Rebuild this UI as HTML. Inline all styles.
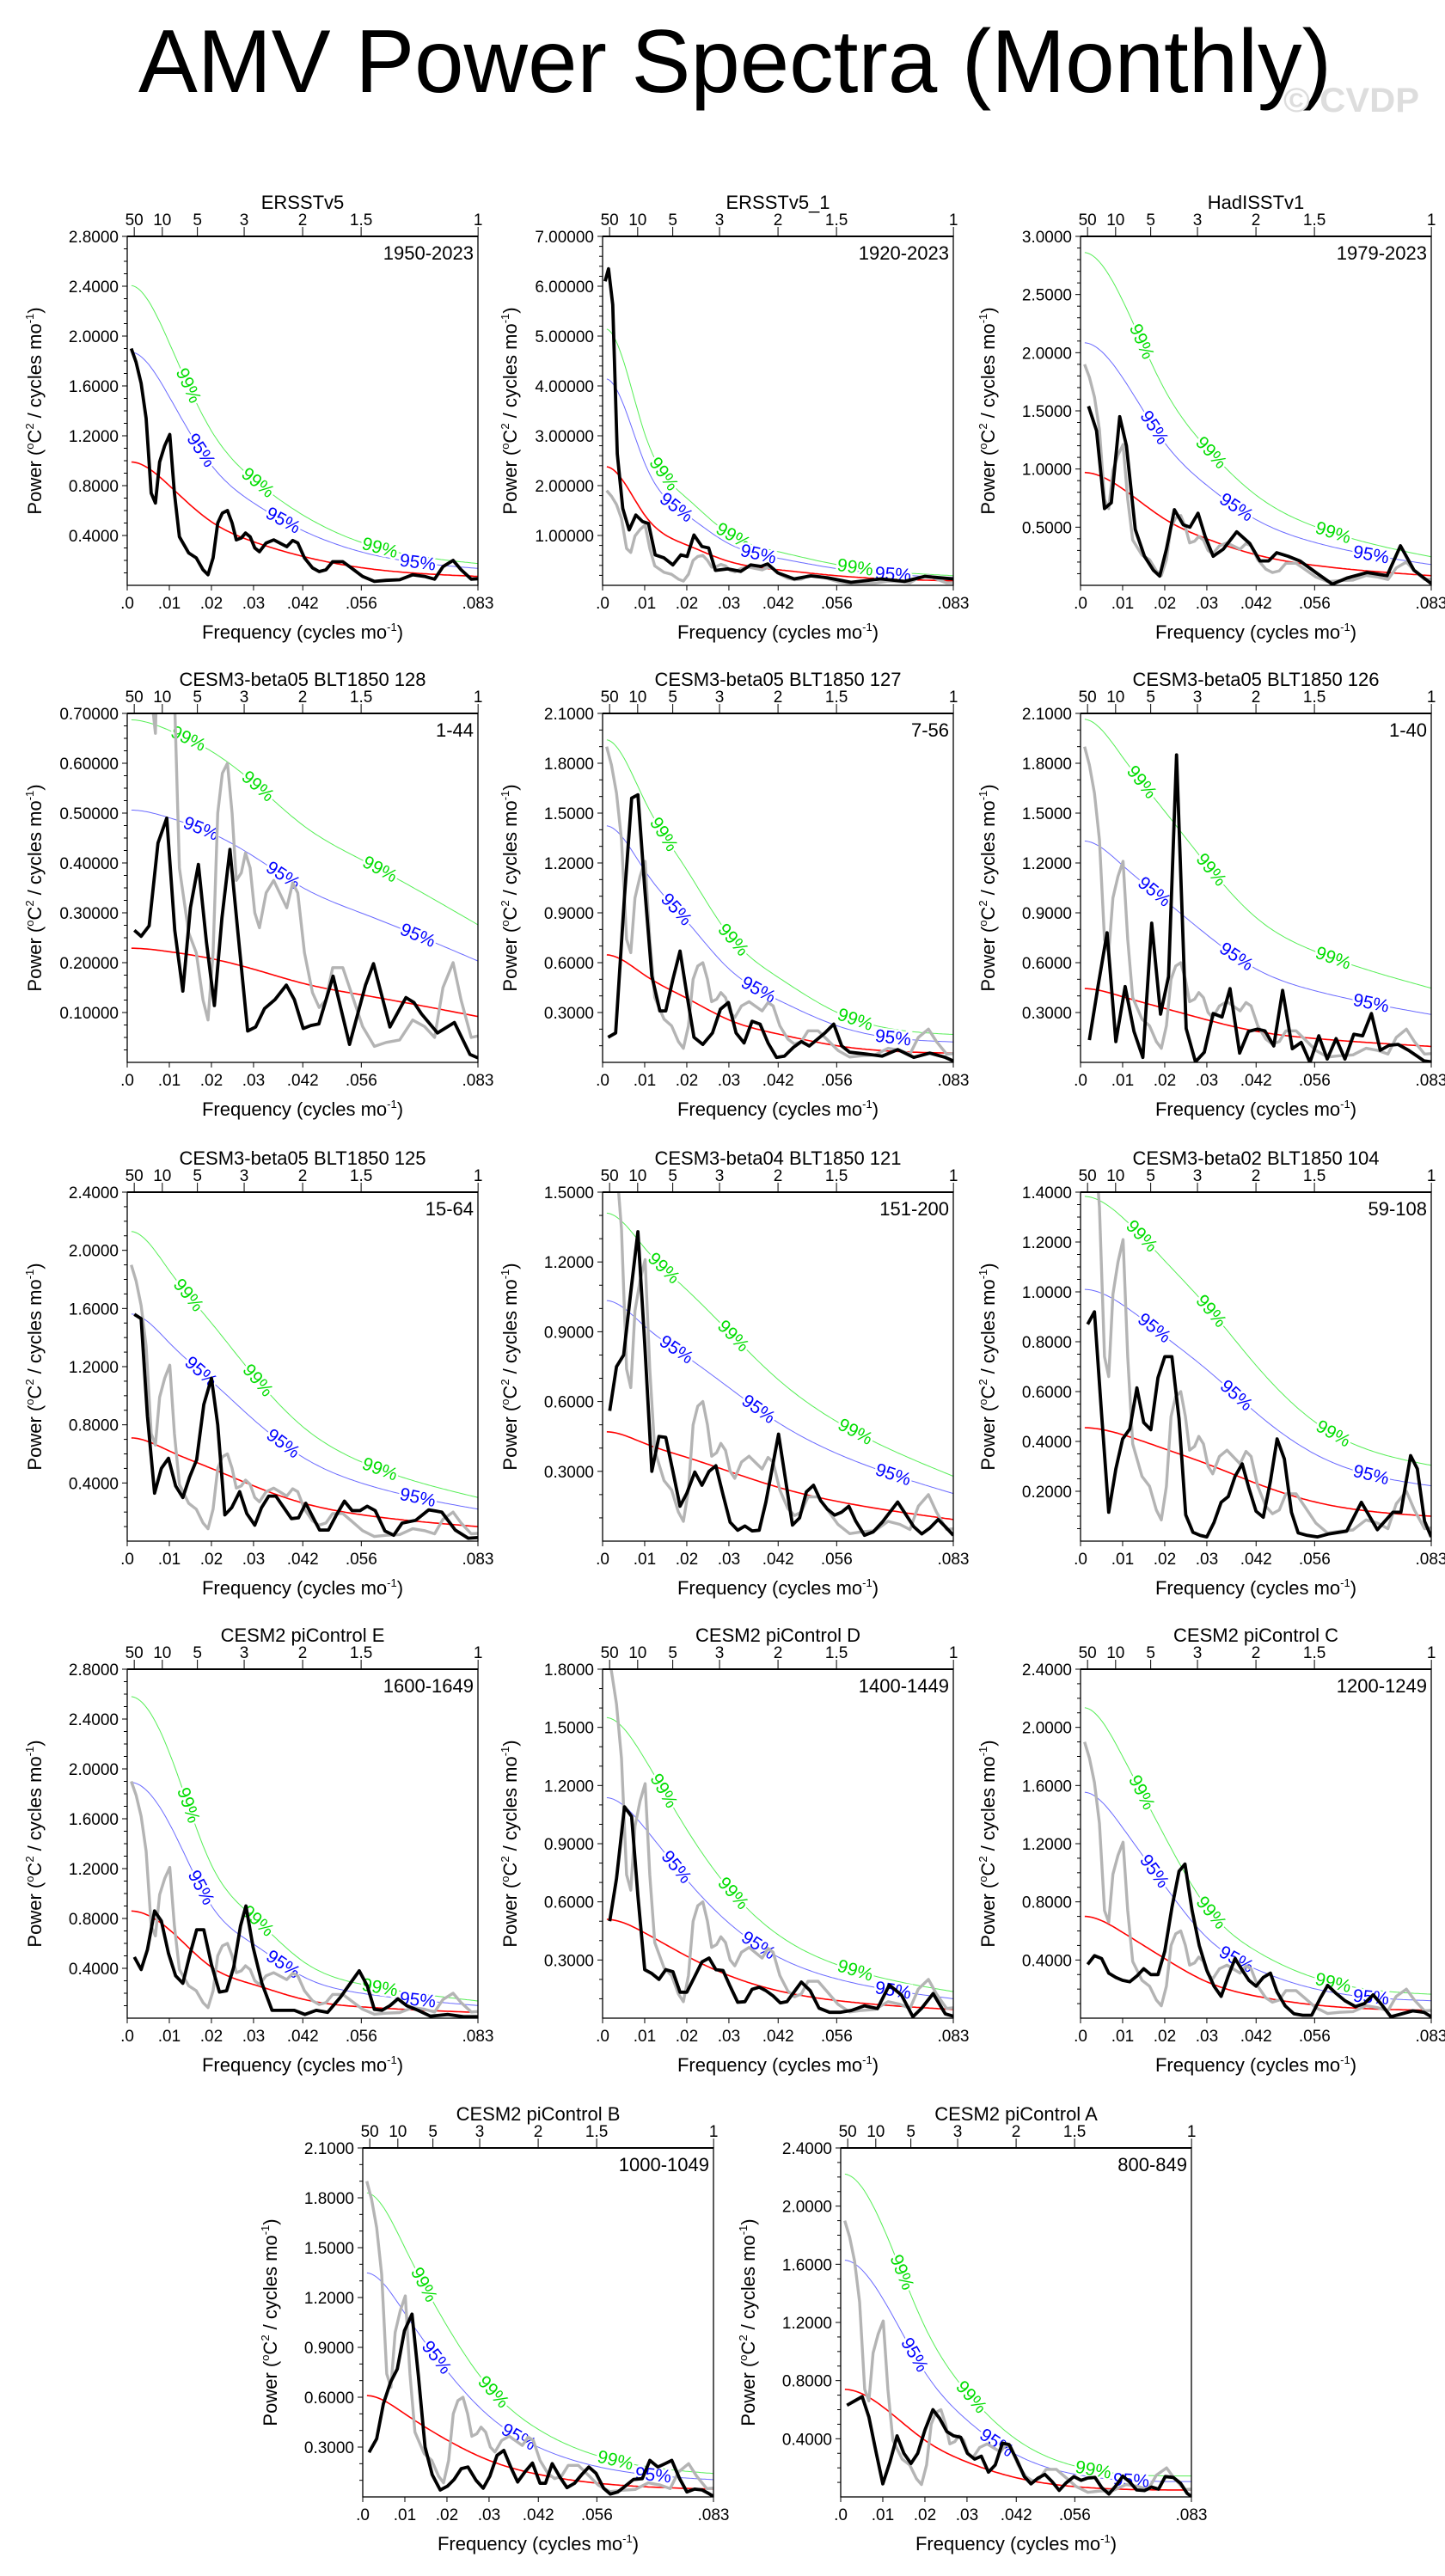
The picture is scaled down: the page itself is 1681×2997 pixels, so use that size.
<!DOCTYPE html>
<html><head><meta charset="utf-8"><style>
html,body{margin:0;padding:0;background:#fff}
svg{display:block;font-family:"Liberation Sans",sans-serif}
</style></head><body>
<svg id="chart" xmlns="http://www.w3.org/2000/svg" width="1681" height="2997" viewBox="0 0 1681 2997">
<rect x="0" y="0" width="1681" height="2997" fill="#fff"/>
<text x="161" y="107" font-size="104" textLength="1388" lengthAdjust="spacingAndGlyphs">AMV Power Spectra (Monthly)</text>
<text x="1493" y="130" font-size="40" font-weight="bold" fill="#dddddd" textLength="158" lengthAdjust="spacingAndGlyphs">© CVDP</text>
<g id="panels"></g>
</svg>
<script>
// ---------- data ----------
const redFreqs = [0.001,0.01,0.02,0.03,0.042,0.056,0.0833];
const xTickVals = [0,0.01,0.02,0.03,0.0417,0.0556,0.0833];
const xTickLabels = [".0",".01",".02",".03",".042",".056",".083"];
const periodVals = [50,10,5,3,2,1.5,1];
const periodLabels = ["50","10","5","3","2","1.5","1"];

const titles = ["ERSSTv5","ERSSTv5_1","HadISSTv1","CESM3-beta05 BLT1850 128","CESM3-beta05 BLT1850 127","CESM3-beta05 BLT1850 126","CESM3-beta05 BLT1850 125","CESM3-beta04 BLT1850 121","CESM3-beta02 BLT1850 104","CESM2 piControl E","CESM2 piControl D","CESM2 piControl C","CESM2 piControl B","CESM2 piControl A"];
const yearRanges = ["1950-2023","1920-2023","1979-2023","1-44","7-56","1-40","15-64","151-200","59-108","1600-1649","1400-1449","1200-1249","1000-1049","800-849"];
const yMaxes = [2.8,7,3,0.7,2.1,2.1,2.4,1.5,1.4,2.8,1.8,2.4,2.1,2.4];
const yTickSteps = [0.4,1,0.5,0.1,0.3,0.3,0.4,0.3,0.2,0.4,0.3,0.4,0.3,0.4];
const yMinorPer = [4,5,5,4,3,3,4,3,4,4,3,4,3,4];
const yDecimals = [4,5,4,5,4,4,4,4,4,4,4,4,4,4];

// observational reference (grey) = ERSSTv5 spectrum
const obsF = [.00095,.0021,.0033,.0045,.0057,.0067,.0077,.0089,.0101,.0112,.0124,.0146,.0164,.018,.0192,.0204,.0215,.0226,.0238,.0249,.0259,.0271,.0281,.0292,.0303,.0314,.033,.0348,.0362,.0379,.0393,.0405,.0421,.044,.0456,.0472,.0488,.0512,.0532,.0559,.0587,.0615,.0647,.0678,.0706,.073,.075,.0774,.0793,.0817,.0833];
const obsV = [1.90,1.79,1.62,1.34,0.74,0.66,0.99,1.12,1.21,0.74,0.39,0.26,0.22,0.125,0.085,0.22,0.50,0.58,0.60,0.50,0.365,0.38,0.42,0.39,0.30,0.27,0.34,0.365,0.34,0.31,0.36,0.34,0.22,0.14,0.11,0.125,0.19,0.19,0.14,0.072,0.032,0.04,0.045,0.085,0.072,0.05,0.15,0.2,0.125,0.05,0.053];

const p2f = [.0006,.0014,.0024,.0035,.0048,.0063,.0079,.0095,.0109,.0125,.0146,.0167,.0186,.0201,.0217,.0236,.0252,.0268,.0297,.0328,.0352,.0376,.0392,.0416,.0455,.0495,.0535,.059,.0661,.0717,.0765,.0804,.0833];
const p2v = [6.10,6.35,5.63,2.64,1.54,1.11,1.41,1.28,1.24,0.61,0.55,0.41,0.61,0.58,1.01,0.78,0.75,0.30,0.33,0.28,0.41,0.38,0.43,0.25,0.13,0.19,0.15,0.06,0.13,0.08,0.18,0.15,0.13];
const p3f = [.0019,.0038,.0057,.0073,.0093,.0109,.013,.0152,.0173,.0188,.0204,.0223,.0244,.026,.0279,.0296,.0315,.0339,.0371,.0402,.0426,.0447,.0466,.0493,.0521,.0561,.0598,.0633,.0681,.0728,.076,.0792,.0833];
const p3v = [1.54,1.33,0.66,0.71,1.45,1.20,0.48,0.25,0.13,0.08,0.31,0.65,0.52,0.50,0.62,0.42,0.25,0.31,0.46,0.36,0.21,0.21,0.28,0.25,0.21,0.105,0.01,0.063,0.11,0.083,0.34,0.13,0.015];
const p4f = [.0017,.0033,.0052,.0073,.0094,.0113,.0132,.015,.0169,.0188,.0207,.0225,.0244,.0263,.0286,.0305,.0326,.0351,.0378,.0397,.0418,.0436,.0455,.0489,.0528,.0566,.0585,.0624,.0662,.0681,.0699,.0737,.0777,.0814,.0833];
const p4v = [.265,.253,.274,.44,.49,.265,.143,.31,.397,.242,.114,.29,.427,.26,.063,.071,.108,.126,.155,.126,.068,.074,.077,.173,.036,.155,.198,.071,.13,.12,.097,.059,.08,.016,.009];
const p5f = [.0013,.0031,.0052,.0069,.0084,.01,.0117,.0136,.015,.0167,.0184,.02,.0217,.0238,.0261,.028,.0299,.0317,.0336,.0355,.0374,.0393,.0413,.0432,.0453,.0472,.0491,.0528,.0549,.0568,.0587,.0626,.0664,.0701,.0739,.0777,.0814,.0833];
const p5v = [.151,.177,1.0,1.59,1.61,1.05,.52,.31,.31,.5,.67,.41,.151,.108,.177,.32,.36,.177,.117,.247,.23,.117,.03,.038,.09,.125,.099,.177,.23,.099,.061,.05,.038,.077,.03,.056,.03,.009];
const p6f = [.0021,.0042,.0063,.0084,.0106,.0127,.0148,.0169,.019,.0209,.0228,.0251,.0273,.0294,.0315,.0336,.0355,.0378,.0399,.042,.0438,.0459,.048,.0503,.0524,.0545,.0566,.0586,.0607,.0628,.0649,.067,.0691,.0712,.0733,.0754,.0779,.0816,.0833];
const p6v = [.134,.465,.78,.125,.456,.186,.03,.838,.29,.517,1.85,.204,.003,.061,.294,.273,.444,.056,.186,.2,.19,.099,.433,.082,.12,0,.16,.02,.143,.02,.169,.16,.294,.073,.103,.108,.073,.009,.003];
const p7f = [.0017,.0033,.0048,.0065,.0081,.0098,.0115,.0132,.0148,.0165,.0182,.02,.0215,.0232,.0248,.0267,.0284,.0303,.0319,.0336,.0353,.0372,.039,.0407,.0424,.044,.0457,.0478,.0497,.0516,.0534,.0553,.057,.0589,.0612,.0633,.0653,.0685,.0716,.0747,.0779,.081,.0833];
const p7v = [1.56,1.53,.86,.33,.5,.57,.38,.30,.44,.56,.94,1.12,.80,.18,.23,.34,.19,.11,.23,.31,.31,.23,.155,.16,.26,.17,.076,.076,.18,.275,.21,.21,.24,.21,.07,.04,.124,.143,.215,.20,.076,.02,.024];
const p8f = [.0017,.0033,.005,.0067,.0084,.01,.0117,.0134,.015,.0167,.0184,.02,.0219,.0236,.0253,.0269,.0286,.0303,.0321,.0338,.0355,.0372,.0388,.0418,.0451,.0468,.0484,.0501,.0518,.0534,.0551,.0568,.0585,.0601,.0622,.0643,.0664,.0701,.0739,.0758,.0777,.0797,.0814,.0833];
const p8v = [.56,.75,.80,1.07,1.33,.85,.30,.45,.446,.30,.15,.206,.297,.24,.30,.324,.2,.081,.047,.065,.044,.047,.168,.46,.069,.1,.212,.24,.174,.137,.112,.125,.15,.087,.025,.04,.081,.168,.062,.031,.056,.093,.062,.025];
const p9f = [.0017,.0033,.005,.0067,.0084,.01,.0117,.0134,.015,.0167,.0184,.02,.0217,.0234,.025,.0267,.0284,.03,.0317,.0334,.0351,.0367,.0384,.04,.0417,.0434,.0451,.0467,.0484,.0501,.0517,.0538,.0563,.059,.0632,.0667,.0705,.0742,.0761,.0784,.08,.0817,.0833];
const p9v = [.87,.92,.51,.116,.29,.41,.45,.615,.476,.447,.656,.74,.74,.49,.105,.035,.023,.017,.075,.156,.179,.26,.31,.212,.12,.096,.24,.41,.33,.116,.033,.023,.017,.029,.04,.156,.046,.116,.116,.343,.29,.08,.017];
const p10f = [.0017,.0033,.0048,.0065,.0081,.0098,.0115,.0132,.0148,.0165,.0182,.02,.0219,.0236,.0253,.0269,.0282,.0299,.032,.0344,.0372,.0397,.0422,.0449,.0476,.0507,.0534,.0551,.057,.0587,.0605,.0624,.0643,.0664,.0691,.072,.0762,.0799,.0833];
const p10v = [.49,.39,.55,.86,.78,.52,.34,.28,.50,.71,.71,.43,.21,.22,.41,.74,.90,.57,.28,.063,.063,.063,.03,.063,.046,.17,.30,.38,.26,.07,.063,.1,.155,.1,.063,.016,.03,.012,.012];
const p11f = [.0017,.0033,.0052,.0069,.0084,.01,.0117,.0134,.015,.0167,.0184,.02,.0219,.0236,.0253,.0269,.0286,.0303,.0321,.0338,.0355,.0372,.0388,.0405,.0422,.0438,.0472,.0493,.0514,.0539,.0564,.0591,.0622,.0653,.0681,.071,.0737,.0758,.0785,.0814,.0833];
const p11v = [.5,.72,1.09,1.04,.63,.25,.23,.2,.25,.24,.134,.134,.216,.29,.31,.25,.246,.164,.082,.085,.149,.16,.142,.115,.079,.085,.186,.142,.052,.03,.03,.04,.064,.049,.171,.119,.007,.052,.127,.022,.01];
const p12f = [.0017,.0033,.005,.0067,.0084,.01,.0117,.0134,.015,.0167,.0184,.02,.0217,.0234,.0248,.0265,.0282,.03,.0317,.0334,.0351,.0367,.0384,.04,.0417,.0434,.0451,.0467,.0486,.0507,.0528,.0549,.057,.0587,.0607,.0628,.0653,.0674,.0695,.0716,.0737,.0758,.0789,.0816,.0833];
const p12v = [.37,.43,.41,.31,.28,.26,.25,.29,.34,.30,.30,.46,.76,1.01,1.06,.74,.50,.33,.22,.15,.29,.41,.33,.26,.22,.28,.31,.18,.085,.03,.02,.02,.14,.225,.17,.12,.08,.1,.16,.09,.01,.026,.05,.04,.01];
const p13f = [.0015,.0033,.0049,.0066,.0082,.0099,.0117,.0132,.0148,.0165,.0184,.0201,.0217,.0234,.025,.0269,.0286,.0302,.0319,.0335,.0352,.0368,.0385,.0403,.0421,.0434,.045,.0469,.0485,.0503,.052,.0537,.0554,.0572,.0588,.0606,.0623,.0643,.0664,.0682,.0701,.0718,.0734,.0753,.077,.0788,.0806,.0822,.0833];
const p13v = [.268,.35,.56,.69,.77,1.0,1.10,.73,.30,.134,.042,.064,.105,.17,.18,.1,.052,.125,.25,.28,.177,.09,.15,.204,.082,.082,.2,.117,.056,.082,.134,.18,.143,.052,.017,.03,.064,.105,.11,.22,.18,.2,.22,.108,.03,.047,.042,.02,.003];
const p14f = [.0015,.0033,.0051,.0067,.0084,.01,.0117,.0134,.015,.0167,.0183,.02,.0219,.0235,.0252,.0268,.0285,.0301,.0318,.0334,.0351,.0367,.0384,.04,.0419,.0436,.0452,.0469,.0485,.0502,.0519,.0535,.0554,.0571,.0587,.0604,.062,.0637,.0653,.067,.0686,.0703,.0722,.0738,.0755,.0771,.079,.0807,.0823,.0833];
const p14v = [.63,.66,.69,.55,.31,.09,.24,.42,.30,.23,.30,.46,.60,.54,.45,.42,.41,.30,.26,.28,.17,.22,.37,.36,.25,.14,.09,.13,.155,.105,.045,.095,.14,.114,.13,.134,.064,.02,.074,.143,.104,.048,.044,.068,.054,.14,.134,.094,.024,.004];

const seriesF = [obsF,p2f,p3f,p4f,p5f,p6f,p7f,p8f,p9f,p10f,p11f,p12f,p13f,p14f];
const seriesV = [obsV,p2v,p3v,p4v,p5v,p6v,p7v,p8v,p9v,p10v,p11v,p12v,p13v,p14v];

const red1 = [0.99,0.80,0.51,0.35,0.23,0.14,0.072];
const red2 = [2.38,1.41,0.81,0.48,0.31,0.19,0.09];
const red3 = [0.97,0.83,0.57,0.40,0.26,0.17,0.083];
const red4 = [0.229,0.222,0.208,0.187,0.158,0.135,0.092];
const red5 = [0.647,0.525,0.386,0.256,0.169,0.099,0.056];
const red6 = [0.444,0.395,0.325,0.256,0.186,0.143,0.096];
const red7 = [0.71,0.62,0.50,0.38,0.26,0.18,0.10];
const red8 = [0.47,0.42,0.36,0.30,0.23,0.17,0.093];
const red9 = [0.455,0.427,0.37,0.31,0.23,0.156,0.1];
const red10 = [0.86,0.71,0.41,0.27,0.15,0.09,0.046];
const red11 = [0.51,0.44,0.32,0.22,0.14,0.09,0.045];
const red12 = [0.70,0.59,0.41,0.25,0.15,0.09,0.054];
const red13 = [0.61,0.50,0.343,0.22,0.134,0.082,0.047];
const red14 = [0.74,0.62,0.39,0.24,0.13,0.07,0.048];
const redSeries = [red1,red2,red3,red4,red5,red6,red7,red8,red9,red10,red11,red12,red13,red14];
const ratio95 = [1.89,1.74,2.15,2.21,2.2,3.0,2.2,2.2,2.22,2.2,2.23,2.22,2.21,2.2];
const ratio99 = [2.43,2.16,2.95,3.0,3.0,4.65,3.0,3.0,3.04,3.0,3.04,3.05,3.0,3.0];
const label99F = [0.0145,0.031,0.06];
const label95F = [0.0175,0.037,0.069];

// ---------- layout (not data) ----------
const PW = 408, PH = 406, FMAX = 0.0833;
const colX = [148,701,1257];
const rowY = [275,830,1387,1942,2499];
const panelPos = [];
for (let i=0;i<12;i++) panelPos.push([colX[i%3], rowY[Math.floor(i/3)]]);
panelPos.push([422,rowY[4]]); panelPos.push([978,rowY[4]]);

const NS = "http://www.w3.org/2000/svg";
const root = document.getElementById('panels');
function mk(tag, attrs, parent, text){
  const e = document.createElementNS(NS, tag);
  for (const k in attrs) e.setAttribute(k, attrs[k]);
  if (text !== undefined) e.textContent = text;
  (parent||root).appendChild(e);
  return e;
}
// cubic spline, clamped zero slope at start (f=0 side), natural at end
function splineInterp(xs0, ys0){
  // prepend f=0 point with zero-slope assumption via mirrored point
  const xs = [0].concat(xs0), ys = [ys0[0]].concat(ys0);
  const n = xs.length, h = [];
  for (let i=0;i<n-1;i++) h.push(xs[i+1]-xs[i]);
  const a = new Array(n).fill(0), b = new Array(n).fill(0), c = new Array(n).fill(0), r = new Array(n).fill(0);
  // clamped start: slope 0
  b[0] = 2*h[0]; c[0] = h[0]; r[0] = 6*((ys[1]-ys[0])/h[0] - 0);
  for (let i=1;i<n-1;i++){
    a[i]=h[i-1]; b[i]=2*(h[i-1]+h[i]); c[i]=h[i];
    r[i]=6*((ys[i+1]-ys[i])/h[i]-(ys[i]-ys[i-1])/h[i-1]);
  }
  b[n-1]=1; r[n-1]=0;
  for (let i=1;i<n;i++){ const m=a[i]/b[i-1]; b[i]-=m*c[i-1]; r[i]-=m*r[i-1]; }
  const M = new Array(n);
  M[n-1]=r[n-1]/b[n-1];
  for (let i=n-2;i>=0;i--) M[i]=(r[i]-c[i]*M[i+1])/b[i];
  return function(x){
    let i=0; while(i<n-2 && x>xs[i+1]) i++;
    const hi=h[i], t1=xs[i+1]-x, t0=x-xs[i];
    return M[i]*t1*t1*t1/(6*hi)+M[i+1]*t0*t0*t0/(6*hi)+(ys[i]/hi-M[i]*hi/6)*t1+(ys[i+1]/hi-M[i+1]*hi/6)*t0;
  };
}

for (let p=0;p<14;p++){
  const [L,T] = panelPos[p];
  const ymax = yMaxes[p];
  const xs = f => L + f/FMAX*PW;
  const ys = v => T + PH - v/ymax*PH;
  const g = mk('g',{});
  
  
  const clipId = 'clip'+p;
  const cp = mk('clipPath',{id:clipId},g);
  mk('rect',{x:L,y:T,width:PW,height:PH},cp);

  const tt = mk('text',{x:L+PW/2,y:T-32,'font-size':22,'text-anchor':'middle'},g,titles[p]);
  
  
  const yr = mk('text',{x:L+PW-5,y:T+27,'font-size':22,'text-anchor':'end'},g,yearRanges[p]);
  
  

  const red = redSeries[p];
  const rf = splineInterp(redFreqs, red);
  const curves = [[1,'#ff0000',1.6,'red-noise-curve'],[ratio95[p],'#6a6aff',1,'confidence-95-curve'],[ratio99[p],'#55ee55',1,'confidence-99-curve']];
  for (const [r,col,w,nm] of curves){
    let d='';
    for (let k=0;k<=160;k++){
      const f = redFreqs[0] + (FMAX-redFreqs[0])*k/160;
      const v = rf(f)*r;
      d += (k?'L':'M')+xs(f).toFixed(1)+','+ys(v).toFixed(1);
    }
    const pa = mk('path',{d:d,fill:'none',stroke:col,'stroke-width':w,'clip-path':'url(#'+clipId+')'},g);
    
    
  }
  const labSets = [[ratio99[p],label99F,'99%','#00dd00','label-99'],[ratio95[p],label95F,'95%','#0000ff','label-95']];
  for (const [r,fl,txt,col,nm] of labSets){
    for (const f of fl){
      const x = xs(f), y = ys(rf(f)*r);
      if (y < T+8 || y > T+PH-4) continue;
      const y2 = ys(rf(f+0.0005)*r), x2 = xs(f+0.0005);
      const ang = Math.atan2(y2-y, x2-x)*180/Math.PI;
      const lt = mk('text',{x:x,y:y,'font-size':21,fill:col,'text-anchor':'middle','dominant-baseline':'central',stroke:'#fff','stroke-width':5,'paint-order':'stroke',transform:'rotate('+ang.toFixed(1)+' '+x.toFixed(1)+' '+y.toFixed(1)+')'},g,txt);
      
      
    }
  }
  if (p>0){
    let pts='';
    for (let k=0;k<obsF.length && k<obsV.length;k++) pts += xs(obsF[k]).toFixed(1)+','+ys(obsV[k]).toFixed(1)+' ';
    const gl = mk('polyline',{points:pts,fill:'none',stroke:'#b4b4b4','stroke-width':3.4,'stroke-linejoin':'round','clip-path':'url(#'+clipId+')'},g);
    
    
  }
  const F = seriesF[p], V = seriesV[p];
  let pts='';
  for (let k=0;k<F.length && k<V.length;k++) pts += xs(F[k]).toFixed(1)+','+ys(V[k]).toFixed(1)+' ';
  const bl = mk('polyline',{points:pts,fill:'none',stroke:'#000','stroke-width':3.8,'stroke-linejoin':'round','clip-path':'url(#'+clipId+')'},g);
  
  

  const fr = mk('rect',{x:L,y:T,width:PW,height:PH,fill:'none',stroke:'#000','stroke-width':1.3},g);
  
  
  mk('line',{x1:L,y1:T,x2:L+PW,y2:T,stroke:'#000','stroke-width':2},g);

  const step = yTickSteps[p], minor = step/yMinorPer[p];
  const nMinor = Math.round(ymax/minor);
  for (let k=1;k<=nMinor;k++){
    const v = k*minor, y = ys(v);
    const major = (k % yMinorPer[p]) === 0;
    mk('line',{x1:L-(major?6:4),y1:y,x2:L,y2:y,stroke:'#000','stroke-width':1},g);
    if (major){
      const yl = mk('text',{x:L-10,y:y+7,'font-size':19,'text-anchor':'end'},g,v.toFixed(yDecimals[p]));
      
      
    }
  }
  for (let k=0;k<xTickVals.length;k++){
    const x = xs(xTickVals[k]);
    mk('line',{x1:x,y1:T+PH,x2:x,y2:T+PH+6,stroke:'#000','stroke-width':1},g);
    const xl = mk('text',{x:x,y:T+PH+27,'font-size':19,'text-anchor':'middle'},g,xTickLabels[k]);
    
    
  }
  for (let k=0;k<periodVals.length;k++){
    const x = xs(1/(12*periodVals[k]));
    mk('line',{x1:x,y1:T-11,x2:x,y2:T,stroke:'#000','stroke-width':1},g);
    const pl = mk('text',{x:x,y:T-13,'font-size':19,'text-anchor':'middle'},g,periodLabels[k]);
    
    
  }
  const xt = mk('text',{x:L+PW/2,y:T+PH+62,'font-size':22,'text-anchor':'middle'},g);
  
  
  xt.appendChild(document.createTextNode('Frequency (cycles mo'));
  mk('tspan',{'font-size':13,dy:-9},xt,'-1');
  mk('tspan',{dy:9},xt,')');
  const cx = L-100, cy = T+PH/2;
  const yt = mk('text',{x:cx,y:cy,'font-size':22,'text-anchor':'middle',transform:'rotate(-90 '+cx+' '+cy+')'},g);
  
  
  yt.appendChild(document.createTextNode('Power ('));
  mk('tspan',{'font-size':13,dy:-9},yt,'o');
  mk('tspan',{dy:9},yt,'C');
  mk('tspan',{'font-size':13,dy:-9},yt,'2');
  mk('tspan',{dy:9},yt,' / cycles mo');
  mk('tspan',{'font-size':13,dy:-9},yt,'-1');
  mk('tspan',{dy:9},yt,')');
}
</script>
</body></html>
